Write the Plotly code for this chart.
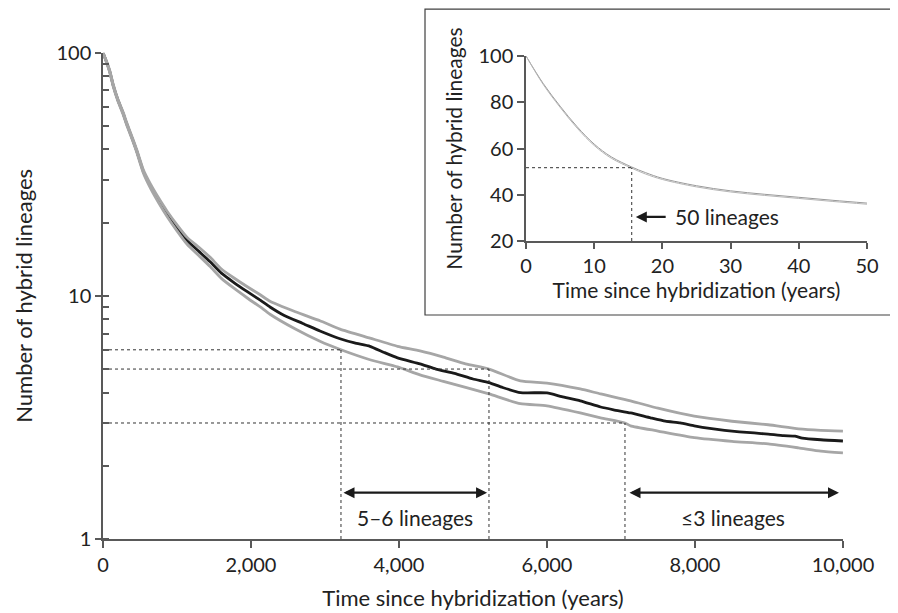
import plotly.graph_objects as go
import math

# ---------------- main chart data ----------------
t_median = [0, 40, 90, 140, 200, 275, 320, 400, 455, 545, 650, 750, 866, 1000, 1137, 1300, 1448, 1600,
            1760, 1950, 2125, 2257, 2450, 2700, 2932, 3203, 3400, 3608, 3800, 3980, 4284, 4500, 4750,
            5000, 5216, 5400, 5640, 6000, 6200, 6450, 6725, 6900, 7130, 7400, 7600, 7800, 7990, 8200,
            8400, 8600, 8800, 8990, 9200, 9350, 9450, 9700, 10000]
median = [100, 93, 84, 73, 64, 56, 51, 44, 39.5, 32.5, 28, 24.8, 21.8, 19.1, 16.9, 15.2, 13.8, 12.4,
          11.4, 10.4, 9.6, 9.0, 8.3, 7.7, 7.17, 6.66, 6.4, 6.2, 5.85, 5.56, 5.25, 5.0, 4.8,
          4.55, 4.4, 4.2, 4.0, 3.99, 3.85, 3.7, 3.49, 3.4, 3.3, 3.15, 3.05, 3.0, 2.92, 2.85,
          2.8, 2.76, 2.73, 2.70, 2.66, 2.65, 2.6, 2.56, 2.53]

t_upper = [0, 40, 90, 140, 200, 275, 320, 400, 455, 545, 650, 750, 866, 1000, 1137, 1300, 1448, 1600,
           1760, 1950, 2125, 2257, 2600, 2932, 3203, 3608, 3980, 4284, 4600, 4900, 5216, 5640, 6000,
           6450, 6725, 7130, 7500, 7990, 8500, 8990, 9400, 9700, 10000]
upper = [100, 93.5, 84.7, 73.7, 64.6, 56.6, 51.6, 44.5, 40, 33, 28.5, 25.3, 22.3, 19.6, 17.4, 15.8, 14.4, 12.9,
         11.9, 10.9, 10.1, 9.5, 8.6, 7.9, 7.3, 6.7, 6.2, 5.94, 5.6, 5.25, 5.0, 4.47, 4.38,
         4.14, 3.95, 3.7, 3.45, 3.2, 3.05, 2.95, 2.84, 2.8, 2.78]

t_lower = [0, 40, 90, 140, 200, 275, 320, 400, 455, 545, 650, 750, 866, 1000, 1137, 1300, 1448, 1600,
           1760, 1950, 2125, 2257, 2600, 2932, 3216, 3608, 3980, 4284, 4600, 4900, 5216, 5640, 6000,
           6450, 6725, 7054, 7130, 7500, 7990, 8500, 8990, 9400, 9700, 10000]
lower = [100, 92.5, 83.3, 72.3, 63.4, 55.4, 50.4, 43.5, 39, 32, 27.4, 24.2, 21.2, 18.5, 16.3, 14.6, 13.2, 11.8,
         10.8, 9.8, 9.0, 8.4, 7.3, 6.5, 6.0, 5.46, 5.1, 4.73, 4.45, 4.2, 3.95, 3.6, 3.53,
         3.3, 3.15, 3.0, 2.92, 2.78, 2.61, 2.52, 2.46, 2.37, 2.3, 2.26]

x_ticks = [0, 2000, 4000, 6000, 8000, 10000]
y_ticks = [1, 10, 100]
y_ticktext = ["1", "10", "100"]
y_minor = [1, 2, 3, 4, 5, 6, 7, 8, 9, 10, 20, 30, 40, 50, 60, 70, 80, 90]

# thresholds (lineage counts) and the times where they are reached
threshold_levels = [6, 5, 3]
threshold_times = [3216, 5216, 7054]

# ranges marked by arrows
range_56 = [3230, 5190]
range_le3 = [7095, 9946]
arrow_level = 1.55
label_level = 1.23
label_56 = "5–6 lineages"
label_le3 = "≤3 lineages"

# ---------------- inset data ----------------
t_inset = [0, 2.5, 5, 7.5, 10, 12.5, 15.5, 17.5, 20, 25, 30, 35, 40, 45, 50]
inset_upper = [100, 88.2, 78.3, 69.4, 61.9, 56.4, 52.0, 49.6, 47.1, 43.9, 41.7, 40.2, 38.9, 37.6, 36.4]
inset_lower = [100, 87.8, 77.8, 68.8, 61.3, 55.8, 51.5, 49.0, 46.6, 43.4, 41.2, 39.7, 38.4, 37.1, 35.9]
inset_x_ticks = [0, 10, 20, 30, 40, 50]
inset_y_ticks = [20, 40, 60, 80, 100]
inset_threshold_level = 51.7
inset_threshold_time = 15.5
inset_arrow_level = 30.4
inset_arrow = [20.7, 16.1]
inset_label = "50 lineages"

AX = "#595959"
TXT = "#222222"
GRAY = "#a6a6a6"
FONT = "Lato"

fig = go.Figure()

# median first, bounds on top
fig.add_trace(go.Scatter(x=t_median, y=median, mode="lines", line_shape="spline",
                         line=dict(color="#1a1a1a", width=2.8, smoothing=0.5), xaxis="x", yaxis="y"))
fig.add_trace(go.Scatter(x=t_upper, y=upper, mode="lines", line_shape="spline",
                         line=dict(color=GRAY, width=2.8, smoothing=0.5), xaxis="x", yaxis="y"))
fig.add_trace(go.Scatter(x=t_lower, y=lower, mode="lines", line_shape="spline",
                         line=dict(color=GRAY, width=2.8, smoothing=0.5), xaxis="x", yaxis="y"))

# dashed threshold guides
for lvl, tt in zip(threshold_levels, threshold_times):
    fig.add_trace(go.Scatter(x=[0, tt], y=[lvl, lvl], mode="lines",
                             line=dict(color="#333333", width=1, dash="3px,3px"),
                             xaxis="x", yaxis="y"))
    fig.add_trace(go.Scatter(x=[tt, tt], y=[1, lvl], mode="lines",
                             line=dict(color="#333333", width=1, dash="3px,3px"),
                             xaxis="x", yaxis="y"))

# inset curves
fig.add_trace(go.Scatter(x=t_inset, y=inset_upper, mode="lines", line_shape="spline",
                         line=dict(color="#9a9a9a", width=1), xaxis="x2", yaxis="y2"))
fig.add_trace(go.Scatter(x=t_inset, y=inset_lower, mode="lines", line_shape="spline",
                         line=dict(color="#b5b5b5", width=1), xaxis="x2", yaxis="y2"))
fig.add_trace(go.Scatter(x=[0, inset_threshold_time], y=[inset_threshold_level] * 2, mode="lines",
                         line=dict(color="#333333", width=1, dash="3px,3px"), xaxis="x2", yaxis="y2"))
fig.add_trace(go.Scatter(x=[inset_threshold_time] * 2, y=[20, inset_threshold_level], mode="lines",
                         line=dict(color="#333333", width=1, dash="3px,3px"), xaxis="x2", yaxis="y2"))

annotations = []
# double-headed arrows in main chart
for (a, b), lab in [(range_56, label_56), (range_le3, label_le3)]:
    annotations.append(dict(x=b, y=math.log10(arrow_level), ax=a, ay=math.log10(arrow_level),
                            xref="x", yref="y", axref="x", ayref="y", text="", showarrow=True,
                            arrowhead=2, arrowside="end+start", arrowsize=1, arrowwidth=2.2,
                            arrowcolor="#1a1a1a"))
    annotations.append(dict(x=(a + b) / 2, y=math.log10(label_level), xref="x", yref="y",
                            text=lab, showarrow=False, font=dict(size=21, color=TXT, family=FONT)))
# inset arrow
annotations.append(dict(x=inset_arrow[1], y=inset_arrow_level, ax=inset_arrow[0], ay=inset_arrow_level,
                        xref="x2", yref="y2", axref="x2", ayref="y2", text="", showarrow=True,
                        arrowhead=2, arrowsize=1, arrowwidth=2.2, arrowcolor="#1a1a1a"))
annotations.append(dict(x=inset_arrow[0] + 0.9, y=inset_arrow_level, xref="x2", yref="y2",
                        text=inset_label, showarrow=False, xanchor="left",
                        font=dict(size=21, color=TXT, family=FONT)))

axis_common = dict(showgrid=False, zeroline=False, showline=True, linecolor=AX, linewidth=1.5,
                   ticks="outside", tickcolor=AX, tickwidth=1.5, automargin=False)

fig.update_layout(
    width=898, height=613,
    margin=dict(l=95, r=0, t=0, b=82),
    plot_bgcolor="white", paper_bgcolor="white",
    showlegend=False,
    font=dict(family=FONT, size=20, color=TXT),
    xaxis=dict(domain=[0, 0.9215], range=[0, 10000], tickvals=x_ticks, tickformat=",d",
               ticklen=7, title=dict(text="Time since hybridization (years)", standoff=16,
                                     font=dict(size=22, family=FONT, color=TXT)),
               tickfont=dict(size=20, family=FONT, color=TXT), **axis_common),
    yaxis=dict(domain=[0, 0.9158], type="log", range=[0, 2], tickvals=y_ticks, ticktext=y_ticktext,
               ticklen=6,
               minor=dict(tickmode="array", tickvals=y_minor,
                          ticks="inside", ticklen=6, tickcolor=AX, tickwidth=1.5, showgrid=False),
               title=dict(text="Number of hybrid lineages", standoff=18,
                          font=dict(size=22, family=FONT, color=TXT)),
               tickfont=dict(size=20, family=FONT, color=TXT), **axis_common),
    xaxis2=dict(domain=[0.5268, 0.9514], range=[0, 50], tickvals=inset_x_ticks, anchor="y2",
                ticklen=6, title=dict(text="Time since hybridization (years)", standoff=4,
                                      font=dict(size=21, family=FONT, color=TXT)),
                tickfont=dict(size=20, family=FONT, color=TXT), **axis_common),
    yaxis2=dict(domain=[0.5612, 0.9096], range=[20, 100], tickvals=inset_y_ticks, anchor="x2",
                ticklen=7, title=dict(text="Number of hybrid lineages", standoff=10,
                                      font=dict(size=21, family=FONT, color=TXT)),
                tickfont=dict(size=20, family=FONT, color=TXT), **axis_common),
    annotations=annotations,
    shapes=[dict(type="rect", xref="paper", yref="paper", x0=0.401, x1=0.9863, y0=0.4218, y1=0.998,
                 line=dict(color="#404040", width=1.2), fillcolor="rgba(0,0,0,0)", layer="below")],
)

fig.write_html("out.html")
